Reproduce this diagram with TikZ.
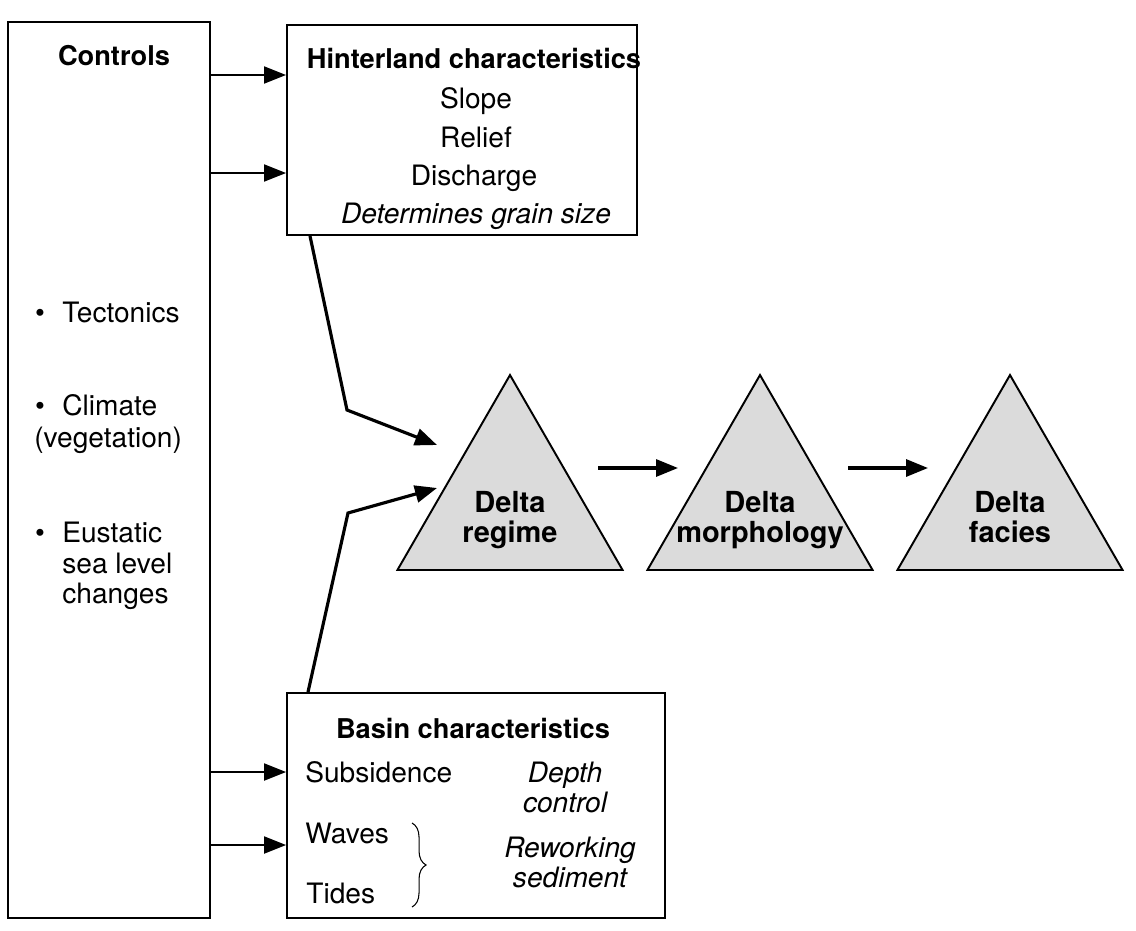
\documentclass[tikz,border=0pt]{standalone}
\usepackage{fontspec}
\setmainfont{TeX Gyre Heros}
\usetikzlibrary{shapes.geometric}
\usetikzlibrary{arrows.meta}
\usetikzlibrary{positioning}
\usetikzlibrary{decorations.pathreplacing}

\tikzset{
  box/.style={draw, line width=1.1pt, inner sep=0pt},
  delta/.style={draw, line width=1.1pt, fill=gray!28, regular polygon,
    regular polygon sides=3, minimum size=5.2cm, inner sep=0pt, outer sep=0pt},
  txt/.style={font=\fontsize{16}{19}\selectfont, anchor=base, inner sep=0pt},
  txtl/.style={txt, anchor=base west},
  head/.style={txt, font=\fontsize{15.5}{19}\selectfont\bfseries},
  note/.style={txt, font=\fontsize{16}{19}\selectfont\itshape},
  flow/.style={line width=1.1pt, -{Triangle[length=4.4mm,width=3.4mm]}},
  bigflow/.style={flow, line width=1.8pt},
}

\begin{document}
\begin{tikzpicture}[x=0.02cm, y=-0.02cm]
\useasboundingbox (0,0) rectangle (1136,930);
% boxes
\node[box, minimum width=4.04cm, minimum height=17.92cm] (ctrl) at (109,470) {};
\node[box, minimum width=7cm, minimum height=4.2cm] (hint) at (462,130) {};
\node[box, minimum width=7.56cm, minimum height=4.5cm] (basin) at (476,805.5) {};
% controls
\node[head] (ctrlT) at (114,65) {Controls};
\node[txt] (b1) at (40,322) {•};
\node[txtl] (tect) at (62,322) {Tectonics};
\node[txt] (b2) at (40,415) {•};
\node[txtl] (clim) at (62,415) {Climate};
\node[txtl] (veg) at (34,447) {(vegetation)};
\node[txt] (b3) at (40,542) {•};
\node[txtl] (eust) at (62,542) {Eustatic};
\node[txtl] (sea) at (62,573) {sea level};
\node[txtl] (chg) at (62,603) {changes};
% hinterland
\node[head] (hintT) at (474,68) {Hinterland characteristics};
\node[txt] (slope) at (476,108) {Slope};
\node[txt] (relief) at (476,147) {Relief};
\node[txt] (disch) at (474,185) {Discharge};
\node[note] (grain) at (476,223) {Determines grain size};
% basin
\node[head] (basinT) at (473,738) {Basin characteristics};
\node[txtl] (subs) at (305,782) {Subsidence};
\node[txtl] (waves) at (305,843) {Waves};
\node[txtl] (tides) at (306,903) {Tides};
\node[note] (depth) at (565,782) {Depth};
\node[note] (dctrl) at (565,812) {control};
\node[note] (rewk) at (570,857) {Reworking};
\node[note] (sedi) at (570,887) {sediment};
\coordinate (brA) at (412,823);
\coordinate (brB) at (412,907);
\draw[decorate, decoration={brace, amplitude=8pt}, line width=0.6pt] (brA) -- (brB);
% deltas
\node[delta] (reg) at (510,505) {};
\node[delta] (mor) at (760,505) {};
\node[delta] (fac) at (1010,505) {};
\node[head, font=\fontsize{16.5}{19}\selectfont\bfseries] (regA) at (510,512) {Delta};
\node[head, font=\fontsize{16.5}{19}\selectfont\bfseries] (regB) at (510,542) {regime};
\node[head, font=\fontsize{16.5}{19}\selectfont\bfseries] (morA) at (760,512) {Delta};
\node[head, font=\fontsize{16.5}{19}\selectfont\bfseries] (morB) at (760,542) {morphology};
\node[head, font=\fontsize{16.5}{19}\selectfont\bfseries] (facA) at (1010,512) {Delta};
\node[head, font=\fontsize{16.5}{19}\selectfont\bfseries] (facB) at (1010,542) {facies};
% arrows
\draw[flow] (ctrl.east |- 0,75) -- (hint.west |- 0,75);
\draw[flow] (ctrl.east |- 0,173) -- (hint.west |- 0,173);
\draw[flow] (ctrl.east |- 0,772) -- (basin.west |- 0,772);
\draw[flow] (ctrl.east |- 0,845) -- (basin.west |- 0,845);
\coordinate (regIn1) at (437,445);
\coordinate (regIn2) at (437,488);
\draw[bigflow] (hint.south -| 310,0) -- (347,410) -- (regIn1);
\draw[bigflow] (basin.north -| 308,0) -- (348,513) -- (regIn2);
\path (reg.center) ++(88,-37) coordinate (rm1) ++(80,0) coordinate (rm2);
\path (mor.center) ++(88,-37) coordinate (mf1) ++(80,0) coordinate (mf2);
\draw[bigflow] (rm1) -- (rm2);
\draw[bigflow] (mf1) -- (mf2);
\end{tikzpicture}
\end{document}
